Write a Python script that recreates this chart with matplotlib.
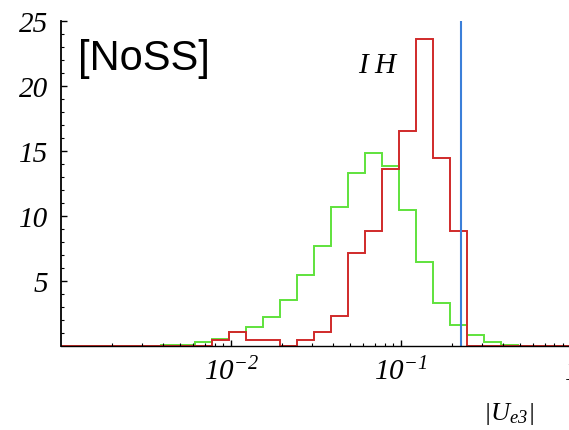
"""Histogram of |U_e3| (NoSS, IH) redrawn as step outlines on a log axis."""
import matplotlib
matplotlib.use("Agg")
import matplotlib.pyplot as plt
import numpy as np
from matplotlib.ticker import FixedLocator, FixedFormatter, NullFormatter

plt.rcParams["mathtext.fontset"] = "custom"
plt.rcParams["mathtext.rm"] = "Liberation Serif:italic"
plt.rcParams["mathtext.it"] = "Liberation Serif:italic"

# -----------------------------------------------------------------------------
# Data: 0.1-decade bins in log10|U_e3|
# -----------------------------------------------------------------------------
log_edges = np.round(np.arange(33) * 0.1 - 3.012, 3)
edges = 10 ** log_edges

green_counts = [0, 0, 0, 0, 0, 0, 0.06, 0.06, 0.25, 0.5,
                1.08, 1.4, 2.2, 3.5, 5.4, 7.7, 10.7, 13.3, 14.8, 13.85,
                10.4, 6.4, 3.3, 1.6, 0.8, 0.3, 0.06, 0, 0, 0,
                0, 0]
red_counts = [0, 0, 0, 0, 0, 0, 0, 0, 0, 0.4,
              1.08, 0.4, 0.4, 0, 0.4, 1.08, 2.3, 7.1, 8.8, 13.6,
              16.5, 23.6, 14.45, 8.8, 0, 0, 0, 0, 0, 0,
              0, 0]
bound = 0.227          # vertical limit line

y_ticks = [5, 10, 15, 20, 25]
x_major = [1e-2, 1e-1, 1.0]
x_major_labels = [r"$10^{-2}$", r"$10^{-1}$", r"$1$"]

# -----------------------------------------------------------------------------
# Plot
# -----------------------------------------------------------------------------
fig = plt.figure(figsize=(5.69, 4.31), dpi=100)
ax = fig.add_axes([0.1072, 0.1956, 0.956, 0.7541])

ax.stairs(green_counts, edges, color="#5fe23c", lw=1.4)
ax.stairs(red_counts, edges, color="#d02a2a", lw=1.4)
ax.axvline(bound, color="#3b7fd9", lw=1.5)

ax.set_xscale("log")
ax.set_xlim(1e-3, 10 ** 0.2)
ax.set_ylim(0, 25)

for s in ["top", "right"]:
    ax.spines[s].set_visible(False)
ax.spines["left"].set_linewidth(1.3)
ax.spines["bottom"].set_linewidth(1.0)

ax.yaxis.set_major_locator(FixedLocator(y_ticks))
ax.yaxis.set_minor_locator(FixedLocator(range(1, 26)))
ax.xaxis.set_major_locator(FixedLocator(x_major))
ax.xaxis.set_major_formatter(FixedFormatter(x_major_labels))
ax.xaxis.set_minor_formatter(NullFormatter())

ax.tick_params(axis="both", which="both", direction="in")
ax.tick_params(axis="y", which="major", length=4, width=1.0, pad=9,
               labelsize=21)
ax.tick_params(axis="y", which="minor", length=2.5, width=0.8)
ax.tick_params(axis="x", which="major", length=4, width=1.0, pad=8,
               labelsize=21)
ax.tick_params(axis="x", which="minor", length=2.5, width=0.8)
for lab in ax.get_yticklabels():
    lab.set_family("Liberation Serif")
    lab.set_style("italic")

fig.text(0.137, 0.838, "[NoSS]", family="Liberation Sans", fontsize=30,
         va="baseline", ha="left")
fig.text(0.629, 0.830, "I H", family="Liberation Serif", style="italic",
         fontsize=21, va="baseline", ha="left")
fig.text(0.893, 0.04, r"$|U_{e3}|$", fontsize=19, ha="center",
         va="center")

plt.savefig("out.png", dpi=100)
